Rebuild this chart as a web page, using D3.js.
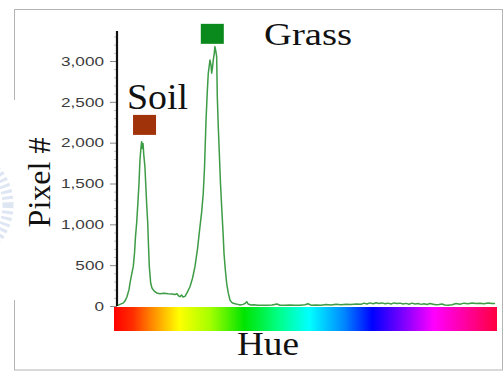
<!DOCTYPE html>
<html>
<head>
<meta charset="utf-8">
<script src="https://cdn.jsdelivr.net/npm/d3@7/dist/d3.min.js"></script>
<style>
  html, body { margin: 0; padding: 0; background: #fff; }
  svg { display: block; }
</style>
</head>
<body>
<svg id="chart" width="504" height="372"></svg>
<script>
// Hue histogram of an image: pixel count per hue (degrees)
const hues = [
  3.8, 5.6, 8.5, 10.3, 12.2, 14.1, 15.0, 16.5, 18.1, 19.3, 20.2, 21.3, 22.4, 23.5, 24.4,
  25.4, 26.0, 26.6, 27.3, 28.0, 29.1, 29.8, 30.7, 31.7, 32.4, 33.2, 34.5, 35.7, 37.6,
  40.1, 43.2, 47.0, 50.8, 54.5, 57.3, 59.2, 60.6, 62.0, 63.5, 64.9, 66.7, 68.6, 71.4,
  73.8, 76.1, 78.5, 80.8, 82.4, 83.9, 85.1, 86.5, 87.6, 88.6, 90.2, 91.2, 91.8, 92.6,
  93.3, 94.3, 94.9, 95.7, 96.5, 97.1, 98.0, 99.0, 100.1, 101.2, 102.5, 103.4, 104.6,
  105.9, 107.4, 109.0, 110.6, 112.1, 114.7, 116.6, 118.4, 121.3, 123.1, 124.7, 126.0,
  128.8, 131.6, 135.4, 139.1, 143.8, 148.5, 153.2, 156.0, 160.7, 165.4, 170.1, 174.8,
  179.5, 182.4, 185.2, 189.9, 194.6, 199.3, 204.0, 208.7, 213.4, 218.1, 222.8, 227.5,
  232.2, 235.0, 237.8, 240.6, 243.5, 246.3, 249.1, 251.9, 254.7, 257.6, 260.4, 263.2,
  266.0, 268.8, 271.7, 274.5, 277.3, 280.1, 282.9, 285.8, 288.6, 291.4, 294.2, 297.0,
  299.9, 302.7, 305.5, 308.3, 311.1, 314.0, 317.7, 321.5, 325.2, 329.0, 332.8, 336.5,
  340.3, 344.0, 347.8, 351.6, 355.3, 358.1
];
const pixelCounts = [
  8, 20, 35, 60, 114, 200, 278, 380, 482, 650, 850, 1016, 1250, 1502, 1788,
  1950, 2012, 1930, 1990, 1850, 1700, 1502, 1250, 1016, 750, 482, 278, 220, 185,
  160, 150, 155, 150, 148, 140, 150, 125, 114, 135, 110, 118, 160, 236,
  340, 482, 700, 971, 1150, 1380, 1700, 2278, 2600, 2849, 3012, 2950, 2850, 2920,
  3012, 3100, 3176, 3120, 3053, 2563, 2200, 1870, 1500, 1216, 900, 645, 450,
  278, 160, 73, 45, 33, 25, 20, 12, 20, 30, 53, 25,
  12, 15, 8, 10, 8, 12, 25, 10, 8, 12, 10, 8,
  15, 28, 10, 12, 10, 18, 12, 20, 15, 22, 18, 25,
  20, 35, 25, 38, 28, 40, 30, 38, 28, 35, 25, 38,
  30, 35, 25, 32, 22, 35, 25, 30, 20, 28, 18, 30,
  22, 15, 18, 25, 12, 10, 15, 30, 22, 35, 28, 38,
  30, 35, 28, 38, 30, 32
];

// Y axis ticks
const yTicks = [0, 500, 1000, 1500, 2000, 2500, 3000];
const yMinorTicks = [100, 200, 300, 400, 600, 700, 800, 900, 1100, 1200, 1300, 1400,
  1600, 1700, 1800, 1900, 2100, 2200, 2300, 2400, 2600, 2700, 2800, 2900, 3100, 3200, 3300];

// Class markers: label, colour, hue and count of the marker's top edge
const classNames = ["Soil", "Grass"];
const classColors = ["#a1330b", "#0a8a1c"];
const classHues = [28.7, 92.4];
const classCounts = [2340, 3455];

// Hue colour strip stops
const spectrumOffsets = [0, 0.05, 0.1, 0.17, 0.25, 0.34, 0.43, 0.51, 0.6, 0.675, 0.76, 0.835, 1];
const spectrumColors = ["#ff0000", "#ff2e00", "#ff8a00", "#ffff00", "#a6ff00", "#00e400",
  "#00ff88", "#00ffff", "#0088ff", "#0000ff", "#8400ff", "#ff00ff", "#ff0040"];

const svg = d3.select("#chart");

const x = d3.scaleLinear().domain([0, 360]).range([114, 497]);
const y = d3.scaleLinear().domain([0, 3000]).range([306, 61]);

// outer frame
svg.append("rect")
  .attr("x", 14.5).attr("y", 9.5).attr("width", 488).attr("height", 360.5)
  .attr("fill", "#fff").attr("stroke", "#b4b4b4").attr("stroke-width", 1);

// faint seal on the left margin
svg.append("circle")
  .attr("cx", -46).attr("cy", 205).attr("r", 54)
  .attr("fill", "none").attr("stroke", "#dfe6f3").attr("stroke-width", 11)
  .attr("stroke-dasharray", "3 3");
svg.append("rect").attr("x", 14).attr("y", 100).attr("width", 10).attr("height", 200).attr("fill", "#fff");

// hue gradient strip
const grad = svg.append("defs").append("linearGradient")
  .attr("id", "hueStrip").attr("x1", "0%").attr("x2", "100%").attr("y1", "0%").attr("y2", "0%");
spectrumOffsets.forEach((o, i) => {
  grad.append("stop").attr("offset", o).attr("stop-color", spectrumColors[i]);
});
svg.append("rect")
  .attr("x", x(0)).attr("y", 307)
  .attr("width", x(360) - x(0)).attr("height", 24)
  .attr("fill", "url(#hueStrip)");

// y axis: minor ticks
const minorAxis = svg.append("g")
  .attr("transform", "translate(117,0)")
  .call(d3.axisLeft(y).tickValues(yMinorTicks).tickSize(3).tickFormat(""));
minorAxis.select(".domain").remove();
minorAxis.selectAll(".tick line").attr("stroke", "#c4c4c4");

// y axis: major ticks and labels
const yAxis = svg.append("g")
  .attr("transform", "translate(117,0)")
  .call(d3.axisLeft(y).tickValues(yTicks).tickSize(7).tickPadding(6).tickFormat(d3.format(",")));
yAxis.select(".domain").remove();
yAxis.selectAll(".tick line").attr("stroke", "#8a8a8a");
yAxis.selectAll(".tick text")
  .attr("font-family", "'Liberation Sans', Arial, sans-serif")
  .attr("font-size", 13)
  .attr("fill", "#3c3c3c")
  .each(function () {
    const len = this.getComputedTextLength();
    d3.select(this).attr("textLength", len * 1.32).attr("lengthAdjust", "spacingAndGlyphs");
  });

// axis spine
svg.append("line")
  .attr("x1", 117).attr("x2", 117)
  .attr("y1", 31).attr("y2", y(0))
  .attr("stroke", "#111").attr("stroke-width", 2.2);

// histogram line
const series = hues.map((h, i) => [h, pixelCounts[i]]);
svg.append("path")
  .datum(series)
  .attr("fill", "none")
  .attr("stroke", "#3d9c45")
  .attr("stroke-width", 1.5)
  .attr("stroke-linejoin", "round")
  .attr("d", d3.line().x(d => x(d[0])).y(d => y(d[1])));

// class markers
classNames.forEach((name, i) => {
  svg.append("rect")
    .attr("x", x(classHues[i]) - 11.5).attr("y", y(classCounts[i]))
    .attr("width", 23).attr("height", 20)
    .attr("fill", classColors[i]);
});

// class labels
const serif = "'Liberation Serif', 'Times New Roman', serif";
svg.append("text")
  .attr("x", 127).attr("y", 109)
  .attr("font-family", serif).attr("font-size", 35)
  .attr("textLength", 61).attr("lengthAdjust", "spacingAndGlyphs")
  .attr("fill", "#111").text(classNames[0]);
svg.append("text")
  .attr("x", 264).attr("y", 45)
  .attr("font-family", serif).attr("font-size", 32)
  .attr("textLength", 88).attr("lengthAdjust", "spacingAndGlyphs")
  .attr("fill", "#111").text(classNames[1]);

// axis titles
svg.append("text")
  .attr("x", 237).attr("y", 355)
  .attr("font-family", serif).attr("font-size", 33)
  .attr("textLength", 62).attr("lengthAdjust", "spacingAndGlyphs")
  .attr("fill", "#111").text("Hue");
svg.append("text")
  .attr("transform", "translate(50,182.5) rotate(-90)")
  .attr("text-anchor", "middle")
  .attr("font-family", serif).attr("font-size", 32)
  .attr("fill", "#111").text("Pixel #");
</script>
</body>
</html>
